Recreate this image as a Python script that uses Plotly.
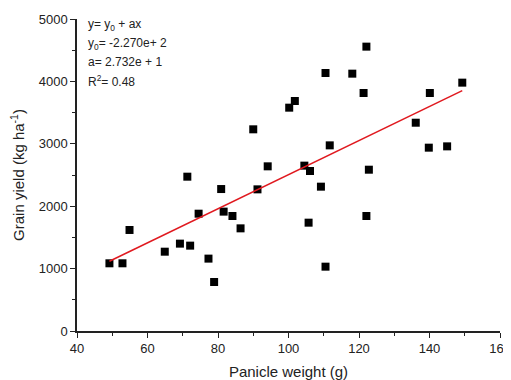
import plotly.graph_objects as go

panicle_weight = [49.2, 52.9, 54.9, 64.9, 69.2, 72.1, 74.5, 77.3, 78.9, 81.6, 84.1, 86.4,
                  80.9, 71.3, 90.0, 122.1, 110.5, 118.1, 121.3, 140.1, 149.3, 101.8, 100.2,
                  136.1, 139.8, 145.0, 111.7, 94.1, 104.5, 106.1, 122.8, 109.2, 91.2, 105.7,
                  122.1, 110.5]
grain_yield = [1085, 1085, 1619, 1271, 1400, 1368, 1880, 1160, 785, 1913, 1843, 1645,
               2275, 2473, 3232, 4557, 4135, 4124, 3814, 3814, 3980, 3686, 3579,
               3338, 2938, 2959, 2975, 2639, 2650, 2564, 2585, 2313, 2270, 1736,
               1843, 1031]

fit_intercept = -227.0
fit_slope = 27.32
fit_r2 = 0.48

x_fit = [min(panicle_weight), max(panicle_weight)]
y_fit = [fit_intercept + fit_slope * v for v in x_fit]

font = "Liberation Sans, Arial, sans-serif"

fig = go.Figure()
fig.add_trace(go.Scatter(x=panicle_weight, y=grain_yield, mode="markers",
                         marker=dict(symbol="square", size=8, color="black"),
                         showlegend=False, cliponaxis=False))
fig.add_trace(go.Scatter(x=x_fit, y=y_fit, mode="lines",
                         line=dict(color="#e0191f", width=1.5), showlegend=False))

axis_common = dict(showline=True, linecolor="#222", linewidth=1.5, ticks="outside",
                   ticklen=5, tickwidth=1.3, tickcolor="#222", showgrid=False,
                   zeroline=False, tickfont=dict(family=font, size=13, color="#222"),
                   mirror=False, automargin=False)

fig.update_xaxes(range=[40, 160], tick0=40, dtick=20,
                 minor=dict(ticks="outside", ticklen=3, dtick=10, tickcolor="#222", tickwidth=1.2),
                 title=dict(text="Panicle weight (g)", font=dict(family=font, size=15, color="#222"),
                            standoff=12),
                 **axis_common)
fig.update_yaxes(range=[0, 5000], tick0=0, dtick=1000,
                 minor=dict(ticks="outside", ticklen=3, dtick=500, tickcolor="#222", tickwidth=1.2),
                 title=dict(text="Grain yield (kg ha<sup>-1</sup>)",
                            font=dict(family=font, size=15, color="#222"), standoff=10),
                 **axis_common)

lines = ["y= y<sub>0</sub> + ax",
         "y<sub>0</sub>= -2.270e+ 2",
         "a= 2.732e + 1",
         "R<sup>2</sup>= %.2f" % fit_r2]
ys = [25, 44, 62, 81]
for t, yy in zip(lines, ys):
    fig.add_annotation(text=t, xref="paper", yref="paper", x=(86 - 77) / 423,
                       y=1 - (yy - 19) / 312, xanchor="left", yanchor="middle",
                       showarrow=False, font=dict(family=font, size=12, color="#222"))

# page body has an 8px margin, so the figure is offset by 8px in the window
fig.update_layout(width=503, height=372, margin=dict(l=69, r=11, t=11, b=49),
                  plot_bgcolor="white", paper_bgcolor="white")

fig.write_html("out.html")
